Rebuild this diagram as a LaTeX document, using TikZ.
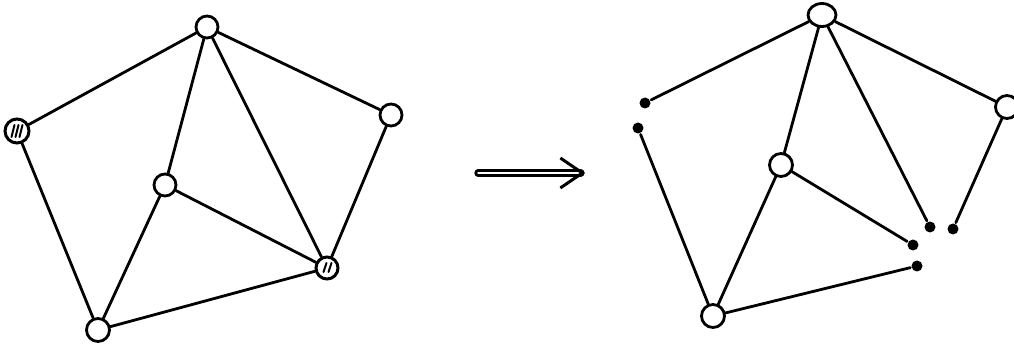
\documentclass[tikz,border=0pt]{standalone}
\usetikzlibrary{arrows.meta,shapes.geometric}
\begin{document}
\begin{tikzpicture}[x=1pt,y=-1pt,line width=2.8pt,line cap=round,
  vtx/.style={circle,draw,fill=white,inner sep=0pt,minimum size=22pt,line width=2.8pt},
  hvtx/.style={circle,draw,fill=white,inner sep=0pt,minimum size=24pt,line width=3pt},
  dot/.style={circle,fill=black,inner sep=0pt,minimum size=11pt},
  edge/.style={draw,line width=2.8pt}]
\useasboundingbox (0,0) rectangle (1014,347);
% left graph
\node[vtx] (T) at (207,27) {};
\node[hvtx] (L) at (17,131) {};
\node[vtx] (R) at (391,115) {};
\node[vtx] (C) at (165,185) {};
\node[hvtx,minimum size=22pt] (H) at (327,268) {};
\node[vtx,minimum size=23pt] (B) at (98,330) {};
\draw[edge] (T) -- (L) (T) -- (R) (T) -- (C) (T) -- (H) (L) -- (B)
  (R) -- (H) (C) -- (H) (C) -- (B) (B) -- (H);
% hatching
\foreach \dx in {-4,0,4} {
  \draw[line width=2pt] ([xshift=\dx pt]L.center) ++(1.5,-6) -- ++(-3,12);
}
\foreach \dx in {-2,3} {
  \draw[line width=2pt] ([xshift=\dx pt]H.center) ++(1.5,-5) -- ++(-3,9);
}
% arrow
\coordinate (a1) at (478,173);
\coordinate (a2) at (585,173);
\draw[line width=3pt,double distance=1.4pt,-{Straight Barb[length=22pt,width=30pt,line width=3pt]}] (a1) -- (a2);
% right graph
\node[ellipse,draw,fill=white,inner sep=0pt,line width=2.8pt,minimum width=28pt,minimum height=23pt] (T2) at (822,15) {};
\node[vtx,minimum size=23pt] (R2) at (1007,107) {};
\node[vtx,minimum size=23pt] (C2) at (781,165) {};
\node[vtx,minimum size=23pt] (B2) at (713,316) {};
\node[dot] (d1) at (645,103) {};
\node[dot] (d2) at (638,128) {};
\node[dot] (d3) at (930,227) {};
\node[dot] (d4) at (953,229) {};
\node[dot] (d5) at (913,245) {};
\node[dot] (d6) at (917,266) {};
\draw[edge] (T2) -- (d1) (d2) -- (B2) (T2) -- (C2) (T2) -- (d3) (T2) -- (R2)
  (R2) -- (d4) (C2) -- (d5) (C2) -- (B2) (B2) -- (d6);
\end{tikzpicture}
\end{document}
